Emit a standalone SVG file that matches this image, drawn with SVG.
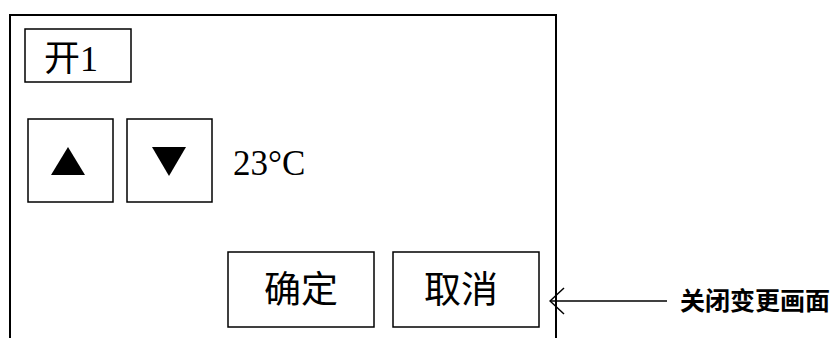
<svg xmlns="http://www.w3.org/2000/svg" width="840" height="338" viewBox="0 0 840 338">
<style>
.box{fill:#fff;stroke:#000;stroke-width:1.5}
.frame{fill:none;stroke:#000;stroke-width:2}
.t{font-family:"Liberation Serif","Noto Sans CJK SC",serif;fill:#000}
.c{font-family:"Noto Sans CJK SC",sans-serif;fill:#000}
</style>
<defs>
<marker id="open" viewBox="0 0 16 28" refX="15" refY="14" markerWidth="16" markerHeight="28" markerUnits="userSpaceOnUse" orient="auto">
<path d="M1,1 L15,14 L1,27" fill="none" stroke="#000" stroke-width="1.5"/>
</marker>
</defs>
<rect width="840" height="338" fill="#fff"/>
<g id="screen">
<path class="frame" d="M10,338 V15 H556 V338"/>
</g>
<g id="title">
<rect class="box" x="25" y="29" width="106" height="53"/>
<text class="t" x="44" y="71" font-size="36">开1</text>
</g>
<g id="up">
<rect class="box" x="28" y="119" width="85" height="83"/>
<polygon points="68,147 51,175 85,175" fill="#000"/>
</g>
<g id="down">
<rect class="box" x="127" y="119" width="85" height="83"/>
<polygon points="152,147 186,147 169,176" fill="#000"/>
</g>
<g id="temp">
<text class="t" x="233" y="175" font-size="35">23°C</text>
</g>
<g id="ok">
<rect class="box" x="228" y="252" width="146" height="75"/>
<text class="c" x="301" y="303" font-size="37" text-anchor="middle">确定</text>
</g>
<g id="cancel">
<rect class="box" x="393" y="252" width="146" height="75"/>
<text class="c" x="461" y="303" font-size="37" text-anchor="middle">取消</text>
</g>
<g id="connectors">
<line x1="667" y1="301" x2="550" y2="301" stroke="#000" stroke-width="1.5" marker-end="url(#open)"/>
</g>
<g id="label">
<text class="c" x="680" y="310" font-size="25" font-weight="bold">关闭变更画面</text>
</g>
</svg>
